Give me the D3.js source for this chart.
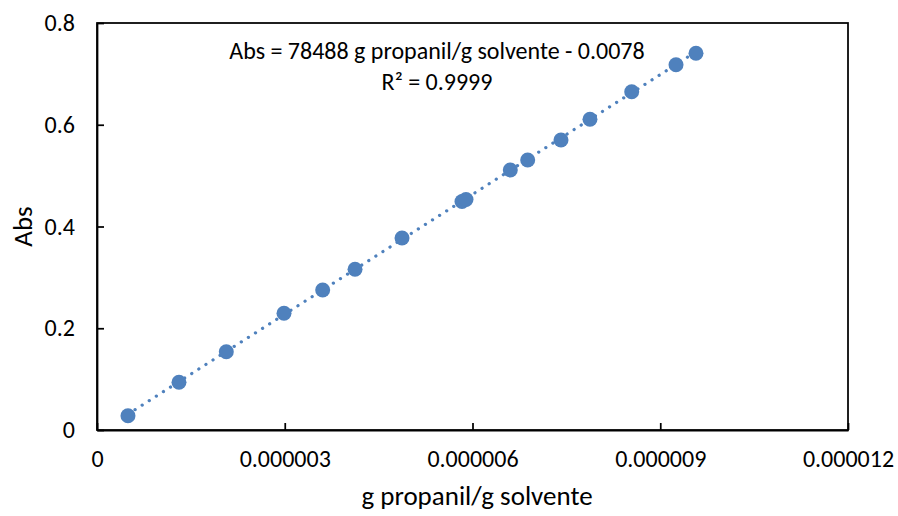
<!DOCTYPE html>
<html>
<head>
<meta charset="utf-8">
<script src="https://cdn.jsdelivr.net/npm/d3@7"></script>
<style>
  html, body { margin: 0; padding: 0; background: #fff; }
  svg text { font-family: Carlito, Calibri, Lato, "Open Sans", sans-serif; fill: #000; }
</style>
</head>
<body>
<svg id="chart" width="898" height="516"></svg>
<script>
// Calibration data: absorbance vs. propanil concentration (g propanil / g solvente)
const concentration = [0.495e-6, 1.310e-6, 2.066e-6, 2.988e-6, 3.606e-6, 4.123e-6, 4.874e-6,
                       5.832e-6, 5.896e-6, 6.604e-6, 6.882e-6, 7.414e-6, 7.877e-6, 8.544e-6,
                       9.252e-6, 9.571e-6];
const absorbance = [0.0281, 0.0938, 0.1539, 0.2294, 0.2752, 0.3159, 0.3774,
                    0.4491, 0.4531, 0.5111, 0.5307, 0.5700, 0.6107, 0.6650,
                    0.7180, 0.7404];
const xTicks = [0, 0.000003, 0.000006, 0.000009, 0.000012];
const yTicks = [0, 0.2, 0.4, 0.6, 0.8];
// Linear fit reported on the chart
const slope = 78488;
const intercept = -0.0078;
const rSquared = 0.9999;

const svg = d3.select("#chart");
const margin = { left: 97, top: 23, right: 50, bottom: 86 };
const W = 898, H = 516;
const x0 = margin.left, x1 = W - margin.right, y0 = margin.top, y1 = H - margin.bottom;

const x = d3.scaleLinear().domain([0, 0.000012]).range([x0, x1]);
const y = d3.scaleLinear().domain([0, 0.8]).range([y1, y0]);

const color = "#4F81BD";
const fontSize = 24;
const titleSize = 27;

// Plot frame
svg.append("rect")
  .attr("x", x0).attr("y", y0)
  .attr("width", x1 - x0).attr("height", y1 - y0)
  .attr("fill", "none").attr("stroke", "#000").attr("stroke-width", 1.75);

// Axes with inward ticks
const xAxis = d3.axisBottom(x).tickValues(xTicks)
  .tickFormat(d => d === 0 ? "0" : d.toFixed(6))
  .tickSizeInner(-7).tickSizeOuter(0).tickPadding(20);
svg.append("g").attr("transform", `translate(0,${y1})`).call(xAxis)
  .call(g => g.selectAll("path, line").attr("stroke", "#000").attr("stroke-width", 1.75))
  .call(g => g.selectAll("text").style("font-size", fontSize + "px"));

const yAxis = d3.axisLeft(y).tickValues(yTicks)
  .tickFormat(d => d === 0 ? "0" : d.toFixed(1))
  .tickSizeInner(-7).tickSizeOuter(0).tickPadding(22);
svg.append("g").attr("transform", `translate(${x0},0)`).call(yAxis)
  .call(g => g.selectAll("path, line").attr("stroke", "#000").attr("stroke-width", 1.75))
  .call(g => g.selectAll("text").style("font-size", fontSize + "px"));

// Dotted trend line over the data range
const xmin = d3.min(concentration), xmax = d3.max(concentration);
svg.append("line")
  .attr("x1", x(xmin)).attr("y1", y(slope * xmin + intercept))
  .attr("x2", x(xmax)).attr("y2", y(slope * xmax + intercept))
  .attr("stroke", color).attr("stroke-width", 3.2)
  .attr("stroke-linecap", "round").attr("stroke-dasharray", "0.1 8.3");

// Data points
svg.append("g").selectAll("circle")
  .data(concentration.map((c, i) => [c, absorbance[i]]))
  .join("circle")
  .attr("cx", d => x(d[0])).attr("cy", d => y(d[1]))
  .attr("r", 7.5).attr("fill", color);

// Regression equation
const eq = svg.append("text")
  .attr("text-anchor", "middle").style("font-size", fontSize + "px");
eq.append("tspan").attr("x", 437).attr("y", 59)
  .text(`Abs = ${slope} g propanil/g solvente - ${Math.abs(intercept).toFixed(4)}`);
eq.append("tspan").attr("x", 437).attr("y", 90)
  .text(`R² = ${rSquared}`);

// Axis titles
svg.append("text").attr("x", 477).attr("y", 505)
  .attr("text-anchor", "middle").style("font-size", titleSize + "px")
  .text("g propanil/g solvente");
svg.append("text")
  .attr("transform", `translate(32,${(y0 + y1) / 2}) rotate(-90)`)
  .attr("text-anchor", "middle").style("font-size", titleSize + "px")
  .text("Abs");
</script>
</body>
</html>
